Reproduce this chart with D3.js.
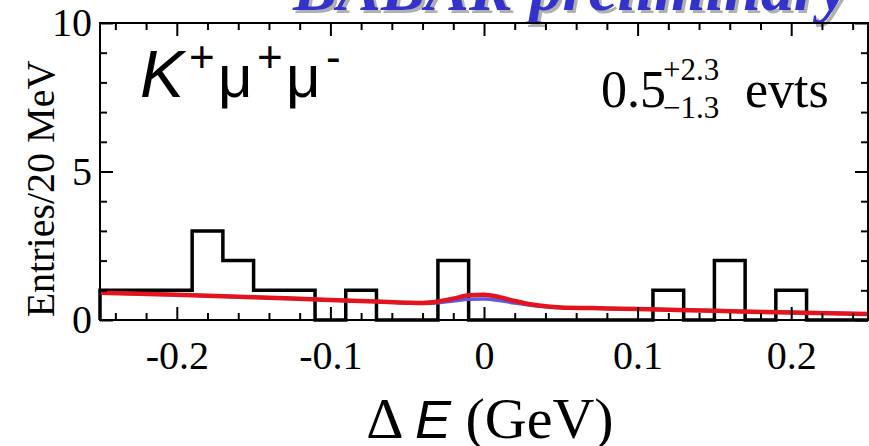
<!DOCTYPE html>
<html><head><meta charset="utf-8">
<script src="https://cdn.jsdelivr.net/npm/d3@7"></script>
<style>html,body{margin:0;padding:0;background:#fff;overflow:hidden}</style>
</head><body>
<svg id="c" width="869" height="446"></svg>
<script>
// ---- data ----
const binCenters = [-0.24,-0.22,-0.20,-0.18,-0.16,-0.14,-0.12,-0.10,-0.08,-0.06,-0.04,-0.02,0.00,0.02,0.04,0.06,0.08,0.10,0.12,0.14,0.16,0.18,0.20,0.22,0.24];
const entries    = [1,1,1,3,2,1,1,0,1,0,0,2,0,0,0,0,0,0,1,0,2,0,1,0,0];
const binWidth = 0.02;
const fitX     = [-0.25,-0.20,-0.15,-0.10,-0.07,-0.05,-0.04,-0.03,-0.02,-0.01,0.00,0.01,0.02,0.03,0.04,0.05,0.07,0.10,0.15,0.20,0.25];
const totalFit = [0.92,0.85,0.77,0.67,0.62,0.58,0.57,0.62,0.72,0.83,0.85,0.77,0.64,0.53,0.46,0.42,0.40,0.37,0.31,0.25,0.20];
const bkgFit   = [0.92,0.85,0.77,0.67,0.62,0.58,0.56,0.58,0.64,0.70,0.71,0.66,0.57,0.50,0.45,0.42,0.40,0.37,0.31,0.25,0.20];
const xMajorTicks = [-0.2,-0.1,0,0.1,0.2];
const xMinorTicks = [-0.24,-0.22,-0.18,-0.16,-0.14,-0.12,-0.08,-0.06,-0.04,-0.02,0.02,0.04,0.06,0.08,0.12,0.14,0.16,0.18,0.22,0.24];
const yMajorTicks = [0,5,10];
const yMinorTicks = [1,2,3,4,6,7,8,9];

// ---- layout ----
const svg = d3.select('#c');
const L = 100, R = 868, T = 23, B = 320;
const x = d3.scaleLinear().domain([-0.25,0.25]).range([L,R]);
const y = d3.scaleLinear().domain([0,10]).range([B,T]);
const serif = "'Liberation Serif','Times New Roman',serif";
const sans = "'Liberation Sans',Arial,sans-serif";

// BABAR preliminary (cut at top, as in the original)
const bab = svg.append('g').attr('font-family', serif).attr('font-weight','bold').attr('font-style','italic').attr('font-size',66);
bab.append('text').attr('x',296).attr('y',13).attr('fill','#b0b0b0').text('BABAR preliminary');
bab.append('text').attr('x',293).attr('y',10).attr('fill','#3333cc').text('BABAR preliminary');

// histogram outline
const pts = [[x(binCenters[0]-binWidth/2), y(0)]];
binCenters.forEach((c,i) => {
  pts.push([x(c-binWidth/2), y(entries[i])]);
  pts.push([x(c+binWidth/2), y(entries[i])]);
});
pts.push([x(binCenters[binCenters.length-1]+binWidth/2), y(0)]);
svg.append('path').attr('d', d3.line()(pts)).attr('fill','none').attr('stroke','#000').attr('stroke-width',3.5).attr('stroke-linejoin','miter');

// fit curves
const fitLine = vals => d3.line().x((d,i)=>x(fitX[i])).y(d=>y(d)).curve(d3.curveMonotoneX)(vals);
svg.append('path').attr('d', fitLine(bkgFit)).attr('fill','none').attr('stroke','#5a5ae6').attr('stroke-width',3.5);
svg.append('path').attr('d', fitLine(totalFit)).attr('fill','none').attr('stroke','#e3141e').attr('stroke-width',4.5);

// axes
function styleAxis(g){ g.select('.domain').remove(); g.selectAll('line').attr('stroke','#000').attr('stroke-width',2); g.selectAll('text').attr('font-family',serif).attr('font-size',40).attr('fill','#000'); }
const fmtX = d => d===0 ? '0' : d3.format('.1f')(d).replace('−','-');
svg.append('g').attr('transform',`translate(0,${B})`).call(d3.axisBottom(x).tickValues(xMajorTicks).tickSizeInner(-13).tickSizeOuter(0).tickPadding(21).tickFormat(fmtX)).call(styleAxis);
svg.append('g').attr('transform',`translate(0,${B})`).call(d3.axisBottom(x).tickValues(xMinorTicks).tickSizeInner(-7).tickSizeOuter(0).tickFormat('')).call(styleAxis);
svg.append('g').attr('transform',`translate(0,${T})`).call(d3.axisTop(x).tickValues(xMajorTicks).tickSizeInner(-13).tickSizeOuter(0).tickFormat('')).call(styleAxis);
svg.append('g').attr('transform',`translate(0,${T})`).call(d3.axisTop(x).tickValues(xMinorTicks).tickSizeInner(-7).tickSizeOuter(0).tickFormat('')).call(styleAxis);
svg.append('g').attr('transform',`translate(${L},0)`).call(d3.axisLeft(y).tickValues(yMajorTicks).tickSizeInner(-13).tickSizeOuter(0).tickPadding(8).tickFormat(d3.format('d'))).call(styleAxis);
svg.append('g').attr('transform',`translate(${L},0)`).call(d3.axisLeft(y).tickValues(yMinorTicks).tickSizeInner(-7).tickSizeOuter(0).tickFormat('')).call(styleAxis);
svg.append('g').attr('transform',`translate(${R},0)`).call(d3.axisRight(y).tickValues(yMajorTicks).tickSizeInner(-13).tickSizeOuter(0).tickFormat('')).call(styleAxis);
svg.append('g').attr('transform',`translate(${R},0)`).call(d3.axisRight(y).tickValues(yMinorTicks).tickSizeInner(-7).tickSizeOuter(0).tickFormat('')).call(styleAxis);

// frame
svg.append('rect').attr('x',L).attr('y',T).attr('width',R-L).attr('height',B-T).attr('fill','none').attr('stroke','#000').attr('stroke-width',2);

// axis titles
svg.append('text').attr('transform','translate(54,189) rotate(-90)').attr('text-anchor','middle')
  .attr('font-family',serif).attr('font-size',40).text('Entries/20 MeV');
const xt = svg.append('text').attr('x',490).attr('y',438).attr('text-anchor','middle').attr('font-size',58).attr('font-family',serif);
xt.append('tspan').text('Δ ');
xt.append('tspan').attr('font-family',sans).attr('font-style','italic').attr('font-size',54).text('E');
xt.append('tspan').text(' (GeV)');

// decay label
const dl = svg.append('g').attr('font-family',sans);
dl.append('text').attr('x',140).attr('y',97).attr('font-style','italic').attr('font-size',66).text('K');
dl.append('text').attr('x',189).attr('y',72).attr('font-size',44).text('+');
dl.append('text').attr('x',218).attr('y',97).attr('font-size',60).text('μ');
dl.append('text').attr('x',257).attr('y',72).attr('font-size',44).text('+');
dl.append('text').attr('x',286).attr('y',97).attr('font-size',60).text('μ');
dl.append('text').attr('x',326).attr('y',72).attr('font-size',44).text('-');

// yield
const yl = svg.append('g').attr('font-family',serif);
yl.append('text').attr('x',601).attr('y',107).attr('font-size',52).text('0.5');
yl.append('text').attr('x',663).attr('y',80).attr('font-size',31).text('+2.3');
yl.append('text').attr('x',663).attr('y',118).attr('font-size',31).text('−1.3');
yl.append('text').attr('x',745).attr('y',107).attr('font-size',52).text('evts');
</script>
</body></html>
